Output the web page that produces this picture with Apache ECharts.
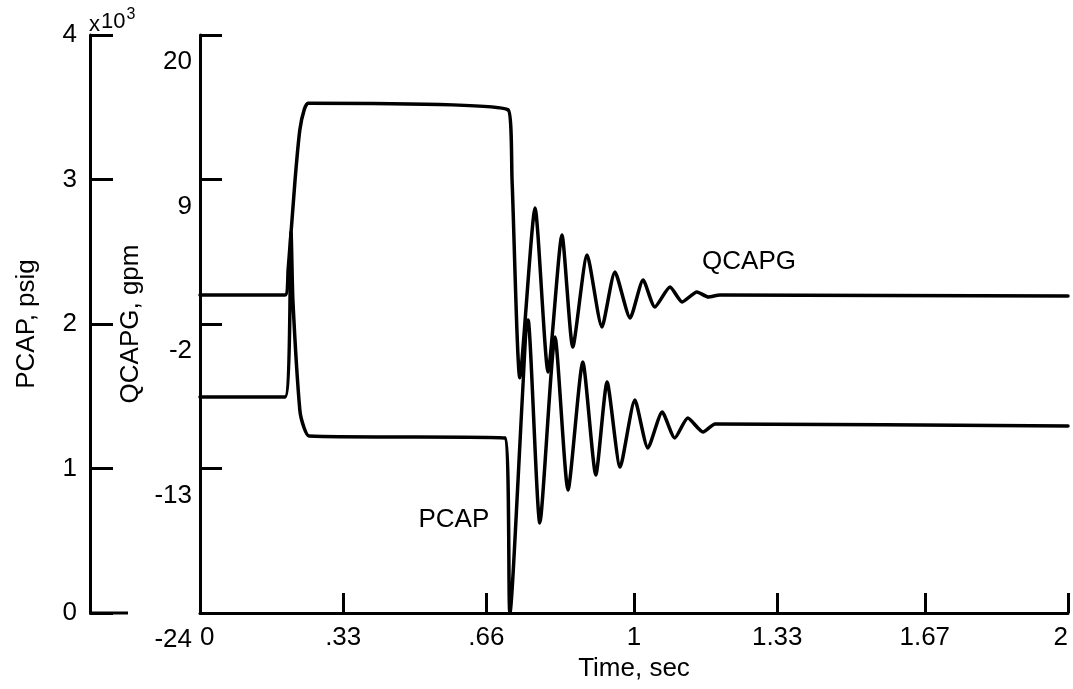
<!DOCTYPE html>
<html>
<head>
<meta charset="utf-8">
<script src="https://cdn.jsdelivr.net/npm/echarts@6/dist/echarts.min.js"></script>
<style>
  html, body { margin: 0; padding: 0; background: #fff; }
  #chart { width: 1073px; height: 689px; }
</style>
</head>
<body>
<div id="chart"></div>
<script>
// ---- Data ----
// Time axis (sec)
const xTickValues = [0, 0.33, 0.66, 1, 1.33, 1.67, 2];
const xTickLabels = ['0', '.33', '.66', '1', '1.33', '1.67', '2'];
// QCAPG axis (gpm)
const qTickValues = [-24, -13, -2, 9, 20];
// PCAP axis (psig, labelled in x10^3)
const pTickValues = [0, 1000, 2000, 3000, 4000];

// QCAPG, gpm
const qcapgTime  = [0, 0.196, 0.203, 0.219, 0.230, 0.240, 0.249, 0.710, 0.719, 0.737, 0.772, 0.802, 0.834, 0.859, 0.892, 0.926, 0.956, 0.991, 1.021, 1.048, 1.083, 1.111, 1.145, 1.171, 1.198, 2.0];
const qcapgValue = [0.2, 0.2, 2.1, 8.96, 12.77, 14.3, 14.8, 14.3, 8.96, -6.1, 6.83, -5.65, 4.78, -3.75, 3.25, -2.23, 1.96, -1.54, 1.35, -0.71, 0.82, -0.32, 0.44, 0.06, 0.21, 0.13];

// PCAP, psig
const pcapTime  = [0, 0.196, 0.2097, 0.214, 0.230, 0.240, 0.251, 0.703, 0.714, 0.756, 0.783, 0.818, 0.848, 0.882, 0.912, 0.938, 0.968, 1.002, 1.032, 1.065, 1.094, 1.124, 1.159, 1.187, 2.0];
const pcapValue = [1495, 1495, 2637, 2166, 1405, 1280, 1225, 1211, 0, 2028, 623, 1910, 851, 1737, 955, 1599, 1010, 1474, 1142, 1391, 1211, 1349, 1253, 1308, 1294];

// Curve annotations (data coordinates)
const qcapgLabel = { text: 'QCAPG', t: 1.265, v: 2.72 };
const pcapLabel  = { text: 'PCAP',  t: 0.585, v: 644 };

// ---- Chart ----
const FONT = "'Liberation Sans', Arial, Helvetica, sans-serif";
const FS = 26;
const qData = qcapgTime.map((t, i) => [t, qcapgValue[i]]);
const pData = pcapTime.map((t, i) => [t, pcapValue[i]]);

const chart = echarts.init(document.getElementById('chart'), null, { renderer: 'canvas' });

const blackLine = { color: '#000', width: 3 };

const option = {
  backgroundColor: '#ffffff',
  animation: false,
  textStyle: { fontFamily: FONT, color: '#000' },
  title: {
    text: '{x|x}{t|10}{e|3}',
    left: 89, top: 4,
    padding: 0,
    textStyle: {
      fontSize: 22, fontWeight: 'normal', color: '#000', fontFamily: FONT,
      rich: {
        x: { fontSize: 22, fontFamily: FONT, color: '#000', padding: [10, 1, 0, 0] },
        t: { fontSize: 22, fontFamily: FONT, color: '#000', padding: [4, 0, 0, 0] },
        e: { fontSize: 16, fontFamily: FONT, color: '#000', padding: [0, 0, 10, 1] }
      }
    }
  },
  grid: { left: 200, right: 5, top: 35, bottom: 76, containLabel: false },
  xAxis: {
    type: 'value',
    min: 0, max: 2,
    name: 'Time, sec',
    nameLocation: 'middle',
    nameGap: 40,
    nameTextStyle: { fontSize: FS, color: '#000', fontFamily: FONT },
    axisLine: { show: true, onZero: false, lineStyle: blackLine },
    axisTick: { show: true, inside: true, length: 20, lineStyle: blackLine, customValues: xTickValues },
    axisLabel: {
      show: true, margin: 12, fontSize: FS, color: '#000', fontFamily: FONT,
      customValues: xTickValues,
      alignMinLabel: 'left',
      alignMaxLabel: 'right',
      formatter: function (v) {
        const i = xTickValues.findIndex(x => Math.abs(x - v) < 1e-6);
        return i >= 0 ? xTickLabels[i] : '';
      }
    },
    splitLine: { show: false }
  },
  yAxis: [
    {
      // QCAPG, gpm (inner axis)
      type: 'value',
      position: 'left',
      offset: 0,
      min: -24, max: 20,
      name: 'QCAPG, gpm',
      nameLocation: 'middle',
      nameGap: 52,
      nameTextStyle: { fontSize: FS, color: '#000', fontFamily: FONT },
      axisLine: { show: true, onZero: false, lineStyle: blackLine },
      axisTick: { show: true, inside: true, length: 22, lineStyle: blackLine, customValues: qTickValues },
      axisLabel: {
        show: true, margin: 8, fontSize: FS, color: '#000', fontFamily: FONT,
        customValues: qTickValues,
        verticalAlign: 'top',
        padding: [14, 0, 0, 0]
      },
      splitLine: { show: false }
    },
    {
      // PCAP, psig (outer axis)
      type: 'value',
      position: 'left',
      offset: 110,
      min: 0, max: 4000,
      name: 'PCAP, psig',
      nameLocation: 'middle',
      nameGap: 50,
      nameTextStyle: { fontSize: FS, color: '#000', fontFamily: FONT },
      axisLine: { show: true, onZero: false, lineStyle: blackLine },
      axisTick: { show: true, inside: true, length: 23, lineStyle: blackLine, customValues: pTickValues },
      axisLabel: {
        show: true, margin: 13, fontSize: FS, color: '#000', fontFamily: FONT,
        customValues: pTickValues,
        formatter: function (v) { return String(Math.round(v / 1000)); }
      },
      splitLine: { show: false }
    }
  ],
  series: [
    {
      name: 'QCAPG',
      type: 'line',
      yAxisIndex: 0,
      data: qData,
      showSymbol: false,
      symbol: 'none',
      smooth: 0.2,
      lineStyle: { color: '#000', width: 3.5, join: 'round', cap: 'round' },
      markPoint: {
        symbol: 'circle', symbolSize: 1,
        itemStyle: { color: 'rgba(0,0,0,0)' },
        label: { show: true, position: 'inside', fontSize: FS, color: '#000', fontFamily: FONT },
        data: [{ coord: [qcapgLabel.t, qcapgLabel.v], value: qcapgLabel.text, label: { formatter: qcapgLabel.text } }]
      }
    },
    {
      name: 'PCAP',
      type: 'line',
      yAxisIndex: 1,
      data: pData,
      showSymbol: false,
      symbol: 'none',
      smooth: 0.2,
      lineStyle: { color: '#000', width: 3.5, join: 'round', cap: 'round' },
      markPoint: {
        symbol: 'circle', symbolSize: 1,
        itemStyle: { color: 'rgba(0,0,0,0)' },
        label: { show: true, position: 'inside', fontSize: FS, color: '#000', fontFamily: FONT },
        data: [{ coord: [pcapLabel.t, pcapLabel.v], value: pcapLabel.text, label: { formatter: pcapLabel.text } }]
      }
    }
  ]
};
chart.setOption(option);

// short base stub of the outer PCAP axis at its zero (decoration, placed from the axis scale)
const yZero = chart.convertToPixel({ yAxisIndex: 1 }, 0);
chart.setOption({
  graphic: [{
    type: 'line',
    shape: { x1: 89, y1: yZero, x2: 128, y2: yZero },
    style: { stroke: '#000', lineWidth: 3 },
    silent: true
  }]
});
</script>
</body>
</html>
